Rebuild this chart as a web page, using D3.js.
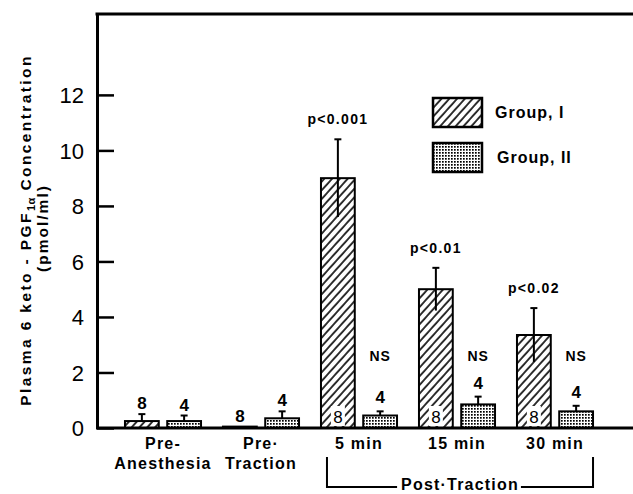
<!DOCTYPE html>
<html>
<head>
<meta charset="utf-8">
<script src="https://cdn.jsdelivr.net/npm/d3@7"></script>
<style>
  body { margin: 0; background: #fff; }
  svg { display: block; font-family: "Liberation Sans", Arial, sans-serif; }
</style>
</head>
<body>
<svg id="chart"></svg>
<script>
const categories = ["Pre-Anesthesia", "Pre-Traction", "5 min", "15 min", "30 min"];
const categoryLines = [["Pre-", "Anesthesia"], ["Pre·", "Traction"], ["5 min"], ["15 min"], ["30 min"]];
const groups = ["Group, I", "Group, II"];
const group1 = [0.25, 0.05, 9.0, 5.0, 3.35];
const group1Err = [0.25, 0, 1.4, 0.77, 0.97];
const group2 = [0.25, 0.35, 0.45, 0.85, 0.6];
const group2Err = [0.2, 0.25, 0.15, 0.28, 0.2];
const n1 = [8, 8, 8, 8, 8];
const n2 = [4, 4, 4, 4, 4];
const pLabels = [null, null, "p<0.001", "p<0.01", "p<0.02"];
const g2Labels = [null, null, "NS", "NS", "NS"];
const yTicks = [0, 2, 4, 6, 8, 10, 12];

const width = 633, height = 494;
const svg = d3.select("#chart").attr("width", width).attr("height", height);

// patterns
const defs = svg.append("defs");
const hatch = defs.append("pattern")
    .attr("id", "hatch")
    .attr("patternUnits", "userSpaceOnUse")
    .attr("width", 5.8).attr("height", 10)
    .attr("patternTransform", "rotate(42)");
hatch.append("rect").attr("width", 5.8).attr("height", 10).attr("fill", "#fff");
hatch.append("line").attr("x1", 1).attr("x2", 1).attr("y1", 0).attr("y2", 10)
    .attr("stroke", "#000").attr("stroke-width", 1.6);

const dots = defs.append("pattern")
    .attr("id", "dots")
    .attr("patternUnits", "userSpaceOnUse")
    .attr("width", 3).attr("height", 3);
dots.append("rect").attr("width", 3).attr("height", 3).attr("fill", "#fff");
dots.append("rect").attr("width", 1.7).attr("height", 1.7).attr("fill", "#000");

const fills = ["url(#hatch)", "url(#dots)"];

const yScale = d3.scaleLinear().domain([0, 14.95]).range([428, 13]);
const x0 = d3.scaleBand().domain(categories).range([114, 604]).paddingInner(0.224).paddingOuter(0.112);
const x1 = d3.scaleBand().domain(groups).range([0, x0.bandwidth()]).paddingInner(0.2);

const rows = [];
categories.forEach((c, i) => {
    rows.push({ cat: c, g: groups[0], i, v: group1[i], e: group1Err[i], n: n1[i], k: 0 });
    rows.push({ cat: c, g: groups[1], i, v: group2[i], e: group2Err[i], n: n2[i], k: 1 });
});

const plot = svg.append("g");
const bx = d => x0(d.cat) + x1(d.g);
const post = i => i >= 2;

plot.selectAll("rect.bar")
    .data(rows)
    .join("rect")
    .attr("class", "bar")
    .attr("x", bx)
    .attr("y", d => yScale(d.v))
    .attr("width", x1.bandwidth())
    .attr("height", d => yScale(0) - yScale(d.v))
    .attr("fill", d => fills[d.k])
    .attr("stroke", "#000")
    .attr("stroke-width", 2);

// error bars
const errRows = rows.filter(d => d.e > 0);
plot.selectAll("line.err")
    .data(errRows)
    .join("line")
    .attr("class", "err")
    .attr("x1", d => bx(d) + x1.bandwidth() / 2)
    .attr("x2", d => bx(d) + x1.bandwidth() / 2)
    .attr("y1", d => d.k === 0 && post(d.i) ? yScale(d.v - d.e) : yScale(d.v))
    .attr("y2", d => yScale(d.v + d.e))
    .attr("stroke", "#000")
    .attr("stroke-width", 2);

plot.selectAll("line.cap")
    .data(errRows)
    .join("line")
    .attr("class", "cap")
    .attr("x1", d => bx(d) + x1.bandwidth() / 2 - 3.5)
    .attr("x2", d => bx(d) + x1.bandwidth() / 2 + 3.5)
    .attr("y1", d => yScale(d.v + d.e))
    .attr("y2", d => yScale(d.v + d.e))
    .attr("stroke", "#000")
    .attr("stroke-width", 2);

// n labels
const nAbove = rows.filter(d => !(d.k === 0 && post(d.i)));
plot.selectAll("text.n")
    .data(nAbove)
    .join("text")
    .attr("class", "n")
    .attr("x", d => bx(d) + x1.bandwidth() / 2)
    .attr("y", d => yScale(d.v + d.e) - (post(d.i) ? 8 : 5))
    .attr("text-anchor", "middle")
    .style("font-size", "17px")
    .style("font-weight", "bold")
    .text(d => d.n);

const nInside = rows.filter(d => d.k === 0 && post(d.i));
plot.selectAll("rect.nbg")
    .data(nInside)
    .join("rect")
    .attr("class", "nbg")
    .attr("x", d => bx(d) + x1.bandwidth() / 2 - 7)
    .attr("y", yScale(0) - 22)
    .attr("width", 14)
    .attr("height", 20)
    .attr("fill", "#fff");
plot.selectAll("text.nin")
    .data(nInside)
    .join("text")
    .attr("class", "nin")
    .attr("x", d => bx(d) + x1.bandwidth() / 2)
    .attr("y", yScale(0) - 5)
    .attr("text-anchor", "middle")
    .style("font-size", "17px")
    .text(d => d.n);

// p-values
plot.selectAll("text.p")
    .data(rows.filter(d => d.k === 0 && pLabels[d.i]))
    .join("text")
    .attr("class", "p")
    .attr("x", d => bx(d) + x1.bandwidth() / 2)
    .attr("y", d => yScale(d.v + d.e) - 15)
    .attr("text-anchor", "middle")
    .style("font-size", "14px")
    .style("font-weight", "bold")
    .style("letter-spacing", "1.3px")
    .text(d => pLabels[d.i]);

plot.selectAll("text.ns")
    .data(rows.filter(d => d.k === 1 && g2Labels[d.i]))
    .join("text")
    .attr("class", "ns")
    .attr("x", d => bx(d) + x1.bandwidth() / 2)
    .attr("y", yScale(2.4))
    .attr("text-anchor", "middle")
    .style("font-size", "14px")
    .style("font-weight", "bold")
    .style("letter-spacing", "1px")
    .text(d => g2Labels[d.i]);

// axes
const yAxis = svg.append("g")
    .attr("transform", "translate(97,0)")
    .call(d3.axisLeft(yScale).tickValues(yTicks).tickSize(-17).tickSizeOuter(0).tickPadding(13));
yAxis.select(".domain").attr("stroke-width", 3);
yAxis.selectAll(".tick line").attr("stroke-width", 2.5);
yAxis.selectAll(".tick text")
    .style("font-size", "22px")
    .style("font-family", "'Liberation Sans', Arial, sans-serif")
    .attr("dy", "0.36em");

svg.append("line")
    .attr("x1", 96).attr("x2", 633)
    .attr("y1", yScale(0)).attr("y2", yScale(0))
    .attr("stroke", "#000").attr("stroke-width", 3);
svg.append("line")
    .attr("x1", 95.5).attr("x2", 633)
    .attr("y1", 14).attr("y2", 14)
    .attr("stroke", "#000").attr("stroke-width", 3);

// category labels
const catG = svg.append("g");
categories.forEach((c, i) => {
    const cx = x0(c) + x0.bandwidth() / 2;
    const t = catG.append("text")
        .attr("x", cx)
        .attr("y", 449)
        .attr("text-anchor", "middle")
        .style("font-size", "16px")
        .style("font-weight", "bold")
        .style("letter-spacing", "1.2px");
    categoryLines[i].forEach((l, j) => {
        t.append("tspan").attr("x", cx).attr("dy", j ? 20 : 0).text(l);
    });
});

// post-traction bracket
const bl = x0("5 min") + 6;
const br = x0("30 min") + x0.bandwidth();
const mid = (bl + br) / 2;
const postText = svg.append("text")
    .attr("x", mid)
    .attr("y", 490)
    .attr("text-anchor", "middle")
    .style("font-size", "16px")
    .style("font-weight", "bold")
    .style("letter-spacing", "1.2px")
    .text("Post·Traction");
const bb = postText.node().getBBox();
svg.append("path")
    .attr("d", `M${bl},457V487H${bb.x - 4}M${bb.x + bb.width + 2},487H${br}V457`)
    .attr("fill", "none")
    .attr("stroke", "#000")
    .attr("stroke-width", 2);

// legend
const legend = svg.append("g").attr("transform", "translate(433,98)");
groups.forEach((g, i) => {
    legend.append("rect")
        .attr("x", 0).attr("y", i * 45)
        .attr("width", 49).attr("height", 29)
        .attr("fill", fills[i])
        .attr("stroke", "#000").attr("stroke-width", 2.5);
    legend.append("text")
        .attr("x", 62 + i * 2).attr("y", i * 45 + 20)
        .style("font-size", "16px")
        .style("font-weight", "bold")
        .style("letter-spacing", "1px")
        .text(g);
});

// y label
const yl = svg.append("text")
    .attr("transform", "translate(31,230) rotate(-90)")
    .attr("text-anchor", "middle")
    .style("font-size", "15.5px")
    .style("font-weight", "bold")
    .style("letter-spacing", "2.4px");
yl.append("tspan").text("Plasma 6 keto - PGF");
yl.append("tspan").attr("dy", 4).style("font-size", "11px").style("letter-spacing", "0.5px").text("1α");
yl.append("tspan").attr("dy", -4).text(" Concentration");
svg.append("text")
    .attr("transform", "translate(48,228) rotate(-90)")
    .attr("text-anchor", "middle")
    .style("font-size", "15.5px")
    .style("font-weight", "bold")
    .style("letter-spacing", "2px")
    .text("(pmol/ml)");
</script>
</body>
</html>
